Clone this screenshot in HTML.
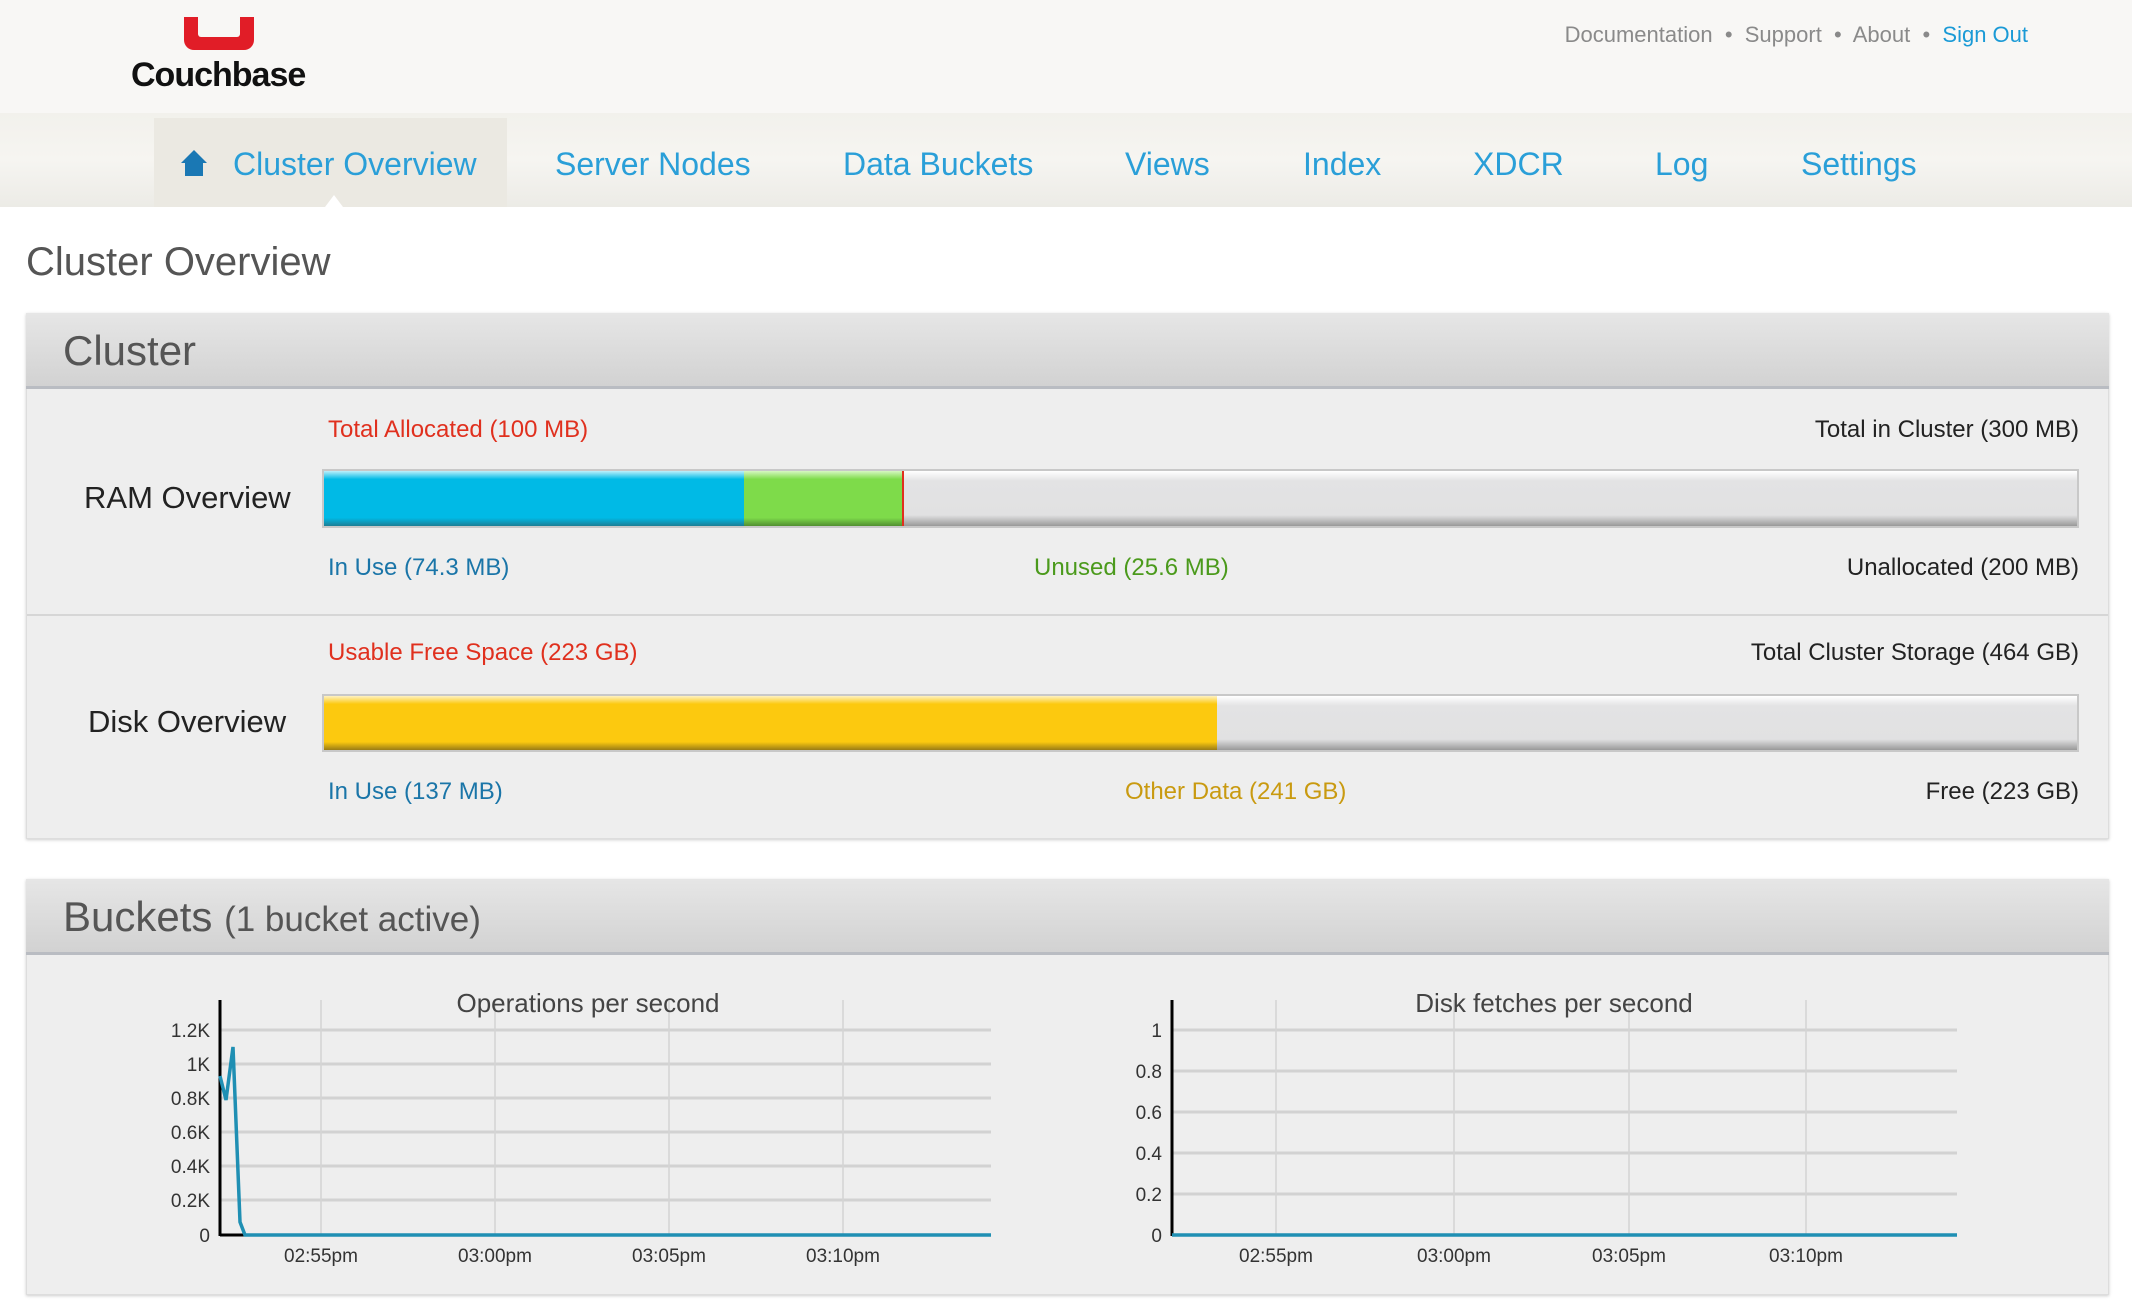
<!DOCTYPE html>
<html><head><meta charset="utf-8"><style>
*{margin:0;padding:0;box-sizing:border-box}
body{width:2132px;height:1312px;position:relative;background:#fff;font-family:"Liberation Sans",Arial,sans-serif;overflow:hidden}
.a{position:absolute;white-space:nowrap}
.nav{color:#2a9fd8;font-size:32px;top:146px}
.lbl{font-size:24px}
.bar{position:absolute;left:322px;width:1757px;border:2px solid #c8c8c8;background:linear-gradient(#fff 0%,#e3e3e4 18%,#e1e1e2 80%,#999 100%)}
.seg{position:absolute;top:0;bottom:0}
</style></head><body>
<div class="a" style="left:0;top:0;width:2132px;height:113px;background:#f8f7f5"></div>
<div class="a" style="left:0;top:113px;width:2132px;height:94px;background:linear-gradient(#f2f1ec,#f6f5f1 50%,#ecebe6)"></div>
<div class="a" style="left:154px;top:118px;width:353px;height:89px;background:#ebe9e2"></div>
<div class="a" style="left:325px;top:195px;width:0;height:0;border-left:9px solid transparent;border-right:9px solid transparent;border-bottom:12px solid #fff"></div>
<div class="a" style="left:184px;top:17px;width:70px;height:33px;background:#e11d27;border-radius:0 0 10px 10px"></div>
<div class="a" style="left:198px;top:17px;width:42px;height:20px;background:#f8f7f5;border-radius:0 0 3px 3px"></div>
<div class="a" style="left:131px;top:56px;font-size:34px;font-weight:bold;color:#111;letter-spacing:-1px">Couchbase</div>
<div class="a" style="right:104px;top:22px;font-size:22px;color:#8a8a8a">Documentation &nbsp;•&nbsp; Support &nbsp;•&nbsp; About &nbsp;•&nbsp; <span style="color:#1a9ad6">Sign Out</span></div>
<svg class="a" style="left:179px;top:148px" width="30" height="30" viewBox="0 0 30 30"><path d="M15 2 L28 15 L24 15 L24 28 L6 28 L6 15 L2 15 Z" fill="#1a78b4"/></svg>
<div class="a nav" style="left:233px">Cluster Overview</div>
<div class="a nav" style="left:555px">Server Nodes</div>
<div class="a nav" style="left:843px">Data Buckets</div>
<div class="a nav" style="left:1125px">Views</div>
<div class="a nav" style="left:1303px">Index</div>
<div class="a nav" style="left:1473px">XDCR</div>
<div class="a nav" style="left:1655px">Log</div>
<div class="a nav" style="left:1801px">Settings</div>
<div class="a" style="left:26px;top:240px;font-size:40px;color:#555">Cluster Overview</div>
<div class="a" style="left:26px;top:313px;width:2083px;height:526px;background:#eee;border:1px solid #ddd;box-shadow:0 1px 3px #ccc"></div>
<div class="a" style="left:26px;top:313px;width:2083px;height:76px;background:linear-gradient(#e6e6e6,#d2d2d2);border-bottom:3px solid #b9bcc2"></div>
<div class="a" style="left:63px;top:327px;font-size:42px;color:#555">Cluster</div>
<div class="a lbl" style="left:328px;top:416px;color:#e0301e">Total Allocated (100 MB)</div>
<div class="a lbl" style="right:53px;top:416px;color:#222">Total in Cluster (300 MB)</div>
<div class="a" style="left:84px;top:480px;font-size:31px;color:#222">RAM Overview</div>
<div class="bar" style="top:469px;height:59px">
<div class="seg" style="left:0;width:420px;background:linear-gradient(#bdf0fb 0%,#00bae6 15%,#00bae6 85%,#1c7e95 100%)"></div>
<div class="seg" style="left:420px;width:159px;background:linear-gradient(#d6f7c2 0%,#7edb4a 15%,#7edb4a 85%,#528f31 100%)"></div>
<div class="seg" style="left:578px;width:2px;background:#e0301e"></div>
</div>
<div class="a lbl" style="left:328px;top:554px;color:#1a75a8">In Use (74.3 MB)</div>
<div class="a lbl" style="left:1034px;top:554px;color:#4b9a1c">Unused (25.6 MB)</div>
<div class="a lbl" style="right:53px;top:554px;color:#222">Unallocated (200 MB)</div>
<div class="a" style="left:27px;top:614px;width:2081px;height:2px;background:#d6d6d6"></div>
<div class="a lbl" style="left:328px;top:639px;color:#e0301e">Usable Free Space (223 GB)</div>
<div class="a lbl" style="right:53px;top:639px;color:#222">Total Cluster Storage (464 GB)</div>
<div class="a" style="left:88px;top:704px;font-size:31px;color:#222">Disk Overview</div>
<div class="bar" style="top:694px;height:58px">
<div class="seg" style="left:0;width:893px;background:linear-gradient(#fff2c0 0%,#fcc90f 15%,#fcc90f 85%,#9a7c16 100%)"></div>
</div>
<div class="a lbl" style="left:328px;top:778px;color:#1a75a8">In Use (137 MB)</div>
<div class="a lbl" style="left:1125px;top:778px;color:#c99a10">Other Data (241 GB)</div>
<div class="a lbl" style="right:53px;top:778px;color:#222">Free (223 GB)</div>
<div class="a" style="left:26px;top:879px;width:2083px;height:416px;background:#eee;border:1px solid #ddd;box-shadow:0 1px 3px #ccc"></div>
<div class="a" style="left:26px;top:879px;width:2083px;height:76px;background:linear-gradient(#e6e6e6,#d2d2d2);border-bottom:3px solid #b9bcc2"></div>
<div class="a" style="left:63px;top:893px;font-size:42px;color:#555">Buckets <span style="font-size:35px">(1 bucket active)</span></div>
<svg class="a" style="left:0;top:0" width="2132" height="1312" font-family="Liberation Sans, Arial, sans-serif">
<g stroke="#d2d2d2" stroke-width="3">
<line x1="221" y1="1030" x2="991" y2="1030"/><line x1="221" y1="1064" x2="991" y2="1064"/><line x1="221" y1="1098" x2="991" y2="1098"/><line x1="221" y1="1132" x2="991" y2="1132"/><line x1="221" y1="1166" x2="991" y2="1166"/><line x1="221" y1="1200" x2="991" y2="1200"/>
<line x1="1173" y1="1030" x2="1957" y2="1030"/><line x1="1173" y1="1071" x2="1957" y2="1071"/><line x1="1173" y1="1112" x2="1957" y2="1112"/><line x1="1173" y1="1153" x2="1957" y2="1153"/><line x1="1173" y1="1194" x2="1957" y2="1194"/>
</g>
<g stroke="#d4d4d4" stroke-width="1.5">
<line x1="321" y1="1000" x2="321" y2="1235"/><line x1="495" y1="1000" x2="495" y2="1235"/><line x1="669" y1="1000" x2="669" y2="1235"/><line x1="843" y1="1000" x2="843" y2="1235"/>
<line x1="1276" y1="1000" x2="1276" y2="1235"/><line x1="1454" y1="1000" x2="1454" y2="1235"/><line x1="1629" y1="1000" x2="1629" y2="1235"/><line x1="1806" y1="1000" x2="1806" y2="1235"/>
</g>
<g stroke="#000" stroke-width="3"><line x1="220" y1="1000" x2="220" y2="1236"/><line x1="220" y1="1235" x2="250" y2="1235"/><line x1="1172" y1="1000" x2="1172" y2="1236"/></g>
<polyline fill="none" stroke="#1f8fb3" stroke-width="3.5" points="220,1076 226,1100 233,1047 240,1222 245,1235 991,1235"/>
<line x1="1172" y1="1235" x2="1957" y2="1235" stroke="#1f8fb3" stroke-width="3.5"/>
<g font-size="19" fill="#333" text-anchor="end">
<text x="210" y="1037">1.2K</text><text x="210" y="1071">1K</text><text x="210" y="1105">0.8K</text><text x="210" y="1139">0.6K</text><text x="210" y="1173">0.4K</text><text x="210" y="1207">0.2K</text><text x="210" y="1242">0</text>
<text x="1162" y="1037">1</text><text x="1162" y="1078">0.8</text><text x="1162" y="1119">0.6</text><text x="1162" y="1160">0.4</text><text x="1162" y="1201">0.2</text><text x="1162" y="1242">0</text>
</g>
<g font-size="19" fill="#333" text-anchor="middle">
<text x="321" y="1262">02:55pm</text><text x="495" y="1262">03:00pm</text><text x="669" y="1262">03:05pm</text><text x="843" y="1262">03:10pm</text>
<text x="1276" y="1262">02:55pm</text><text x="1454" y="1262">03:00pm</text><text x="1629" y="1262">03:05pm</text><text x="1806" y="1262">03:10pm</text>
</g>
<g font-size="26" fill="#444" text-anchor="middle"><text x="588" y="1012">Operations per second</text><text x="1554" y="1012">Disk fetches per second</text></g>
</svg>
</body></html>
